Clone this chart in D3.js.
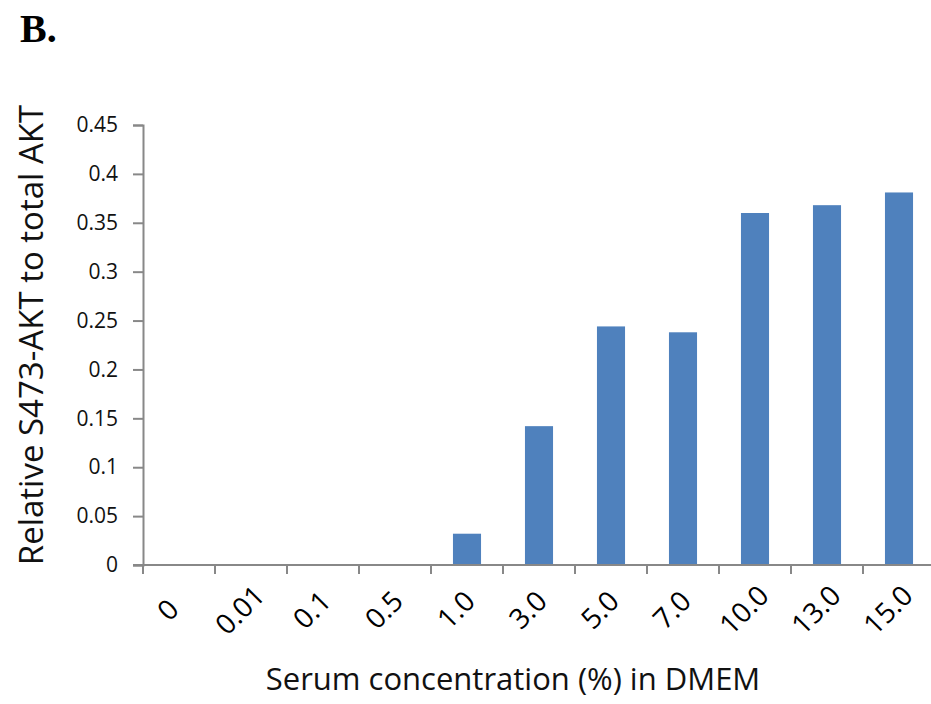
<!DOCTYPE html>
<html>
<head>
<meta charset="utf-8">
<script src="https://cdn.jsdelivr.net/npm/d3@7"></script>
<style>
  body { margin: 0; background: #fff; }
  svg { display: block; }
</style>
</head>
<body>
<div id="app"></div>
<script>
// serum concentration (%) in DMEM
const CATEGORIES = ['0', '0.01', '0.1', '0.5', '1.0', '3.0', '5.0', '7.0', '10.0', '13.0', '15.0'];
// relative S473-AKT to total AKT
const VALUES = [0, 0, 0, 0, 0.032, 0.142, 0.244, 0.238, 0.360, 0.368, 0.381];
const Y_TICKS = [0, 0.05, 0.1, 0.15, 0.2, 0.25, 0.3, 0.35, 0.4, 0.45];

const width = 931;
const height = 704;
const margin = { left: 143, right: -4, top: 125, bottom: 139 };

const svg = d3.select('#app')
  .append('svg')
  .attr('width', width)
  .attr('height', height);

const x = d3.scaleBand()
  .domain(CATEGORIES)
  .range([margin.left, width - margin.right])
  .paddingInner(0.61)
  .paddingOuter(0.305);

const y = d3.scaleLinear()
  .domain([0, 0.45])
  .range([height - margin.bottom, margin.top]);

const axisColor = '#888';
const font = "'Open Sans', sans-serif";

// bars
svg.append('g')
  .selectAll('rect')
  .data(VALUES)
  .join('rect')
  .attr('x', (d, i) => x(CATEGORIES[i]))
  .attr('y', d => y(d))
  .attr('width', x.bandwidth())
  .attr('height', d => y(0) - y(d))
  .attr('fill', '#4f81bd');

// y axis
const yAxis = svg.append('g')
  .attr('transform', `translate(${margin.left},0)`)
  .call(d3.axisLeft(y).tickValues(Y_TICKS).tickSize(10).tickPadding(15).tickFormat(d => d3.format('')(+d.toFixed(2))));
yAxis.select('.domain').attr('stroke', axisColor).attr('stroke-width', 2);
yAxis.selectAll('.tick line').attr('stroke', axisColor).attr('stroke-width', 2);
yAxis.selectAll('.tick text')
  .attr('font-family', font)
  .attr('font-size', 21)
  .attr('fill', '#111');

// x axis: ticks at band boundaries
const step = x.step();
const boundaries = d3.range(CATEGORIES.length + 1).map(i => margin.left + i * step);
const xg = svg.append('g');
xg.append('line')
  .attr('x1', margin.left - 10)
  .attr('x2', width)
  .attr('y1', y(0))
  .attr('y2', y(0))
  .attr('stroke', axisColor)
  .attr('stroke-width', 2);
xg.selectAll('.xtick')
  .data(boundaries)
  .join('line')
  .attr('class', 'xtick')
  .attr('x1', d => d)
  .attr('x2', d => d)
  .attr('y1', y(0))
  .attr('y2', y(0) + 9)
  .attr('stroke', axisColor)
  .attr('stroke-width', 2);

xg.selectAll('.xlabel')
  .data(CATEGORIES)
  .join('text')
  .attr('class', 'xlabel')
  .attr('transform', d => `translate(${x(d) + x.bandwidth() / 2 - 11},${y(0) + 45}) rotate(-45)`)
  .attr('text-anchor', 'middle')
  .attr('dy', '0.35em')
  .attr('font-family', font)
  .attr('font-size', 28)
  .attr('fill', '#000')
  .text(d => d);

// axis titles
svg.append('text')
  .attr('x', 513)
  .attr('y', 690)
  .attr('text-anchor', 'middle')
  .attr('font-family', font)
  .attr('font-size', 31)
  .attr('fill', '#111')
  .text('Serum concentration (%) in DMEM');

svg.append('text')
  .attr('transform', 'translate(43,335) rotate(-90)')
  .attr('text-anchor', 'middle')
  .attr('font-family', font)
  .attr('font-size', 33)
  .attr('fill', '#111')
  .text('Relative S473-AKT to total AKT');

// panel letter
svg.append('text')
  .attr('x', 20)
  .attr('y', 42)
  .attr('font-family', "'Liberation Serif', serif")
  .attr('font-weight', 'bold')
  .attr('font-size', 40)
  .attr('fill', '#000')
  .text('B.');
</script>
</body>
</html>
